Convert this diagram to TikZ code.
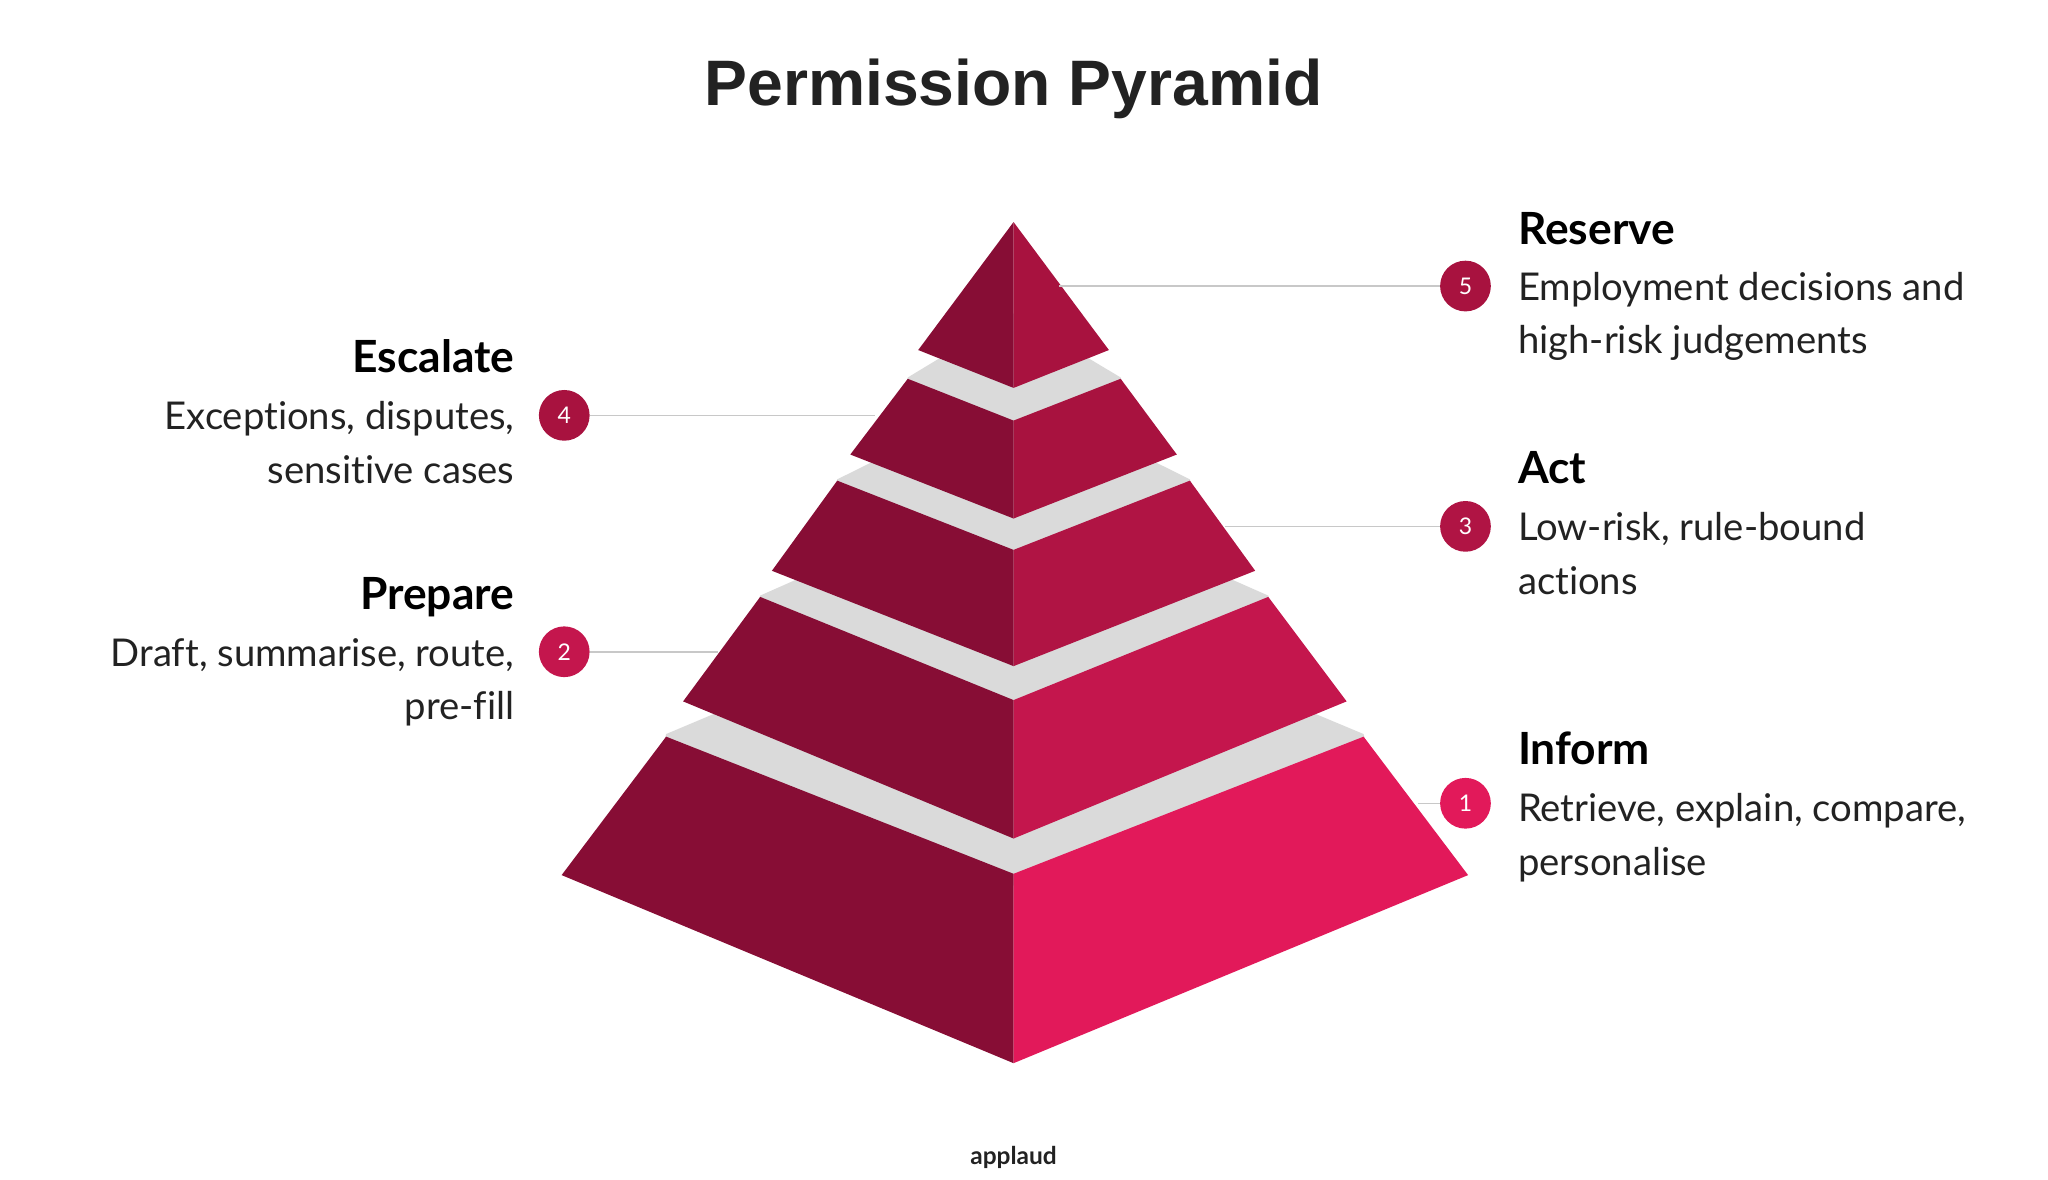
\documentclass[tikz,border=0pt]{standalone}
\usepackage{fontspec}
\setmainfont{Lato}[Ligatures={NoCommon,NoRare}]
\newfontfamily\titlefont{Liberation Sans}
\definecolor{dk}{HTML}{870D35}
\definecolor{c5}{HTML}{A8123F}
\definecolor{c3}{HTML}{B01444}
\definecolor{c2}{HTML}{C4164D}
\definecolor{c1}{HTML}{E2195A}
\definecolor{gr}{HTML}{DADADA}
\definecolor{ln}{HTML}{C8C8C8}
\definecolor{tx}{HTML}{222222}
\begin{document}
\begin{tikzpicture}[x=0.03cm,y=-0.03cm,
 num/.style={circle,minimum size=39*0.85pt,inner sep=0,text=white,font=\fontsize{15}{15}\selectfont},
 hd/.style={font=\fontsize{29}{29}\selectfont\bfseries,text=black,inner sep=0},
 bd/.style={font=\fontsize{25}{35}\selectfont,text=tx,inner sep=0},
 lk/.style={ln,line width=1pt}]
\useasboundingbox (0,0) rectangle (1568,903);
\node[font=\titlefont\fontsize{42}{42}\selectfont\bfseries,text=tx] (title) at (776,68) {Permission Pyramid};
% tier 1
\fill[gr] (510,562)--(776,450)--(1044,562)--(1046,570)--(776,678)--(508,570)--cycle;
\fill[dk] (510,564)--(776,669)--(776,814)--(430,670)--cycle;
\fill[c1] (776,669)--(1044,564)--(1124,670)--(776,814)--cycle;
% tier 2
\fill[gr] (582,456)--(776,370)--(971,456)--(973,463)--(776,545)--(580,463)--cycle;
\fill[dk] (582,457)--(776,536)--(776,642)--(523,537)--cycle;
\fill[c2] (776,536)--(971,457)--(1031,537)--(776,642)--cycle;
% tier 3
\fill[gr] (641,367)--(776,300)--(911,367)--(913,374)--(776,430)--(639,374)--cycle;
\fill[dk] (641,368)--(776,421)--(776,510)--(591,437)--cycle;
\fill[c3] (776,421)--(911,368)--(961,437)--(776,510)--cycle;
% tier 4
\fill[gr] (695,289)--(776,240)--(858,289)--(860,296)--(776,331)--(693,296)--cycle;
\fill[dk] (695,290)--(776,322)--(776,397)--(651,348)--cycle;
\fill[c5] (776,322)--(858,290)--(901,348)--(776,397)--cycle;
% tier 5
\fill[dk] (776,170)--(776,297)--(703,268)--cycle;
\fill[c5] (776,170)--(849,268)--(776,297)--cycle;
% markers
\coordinate (p5) at (811,219);\coordinate (p4) at (670,318);\coordinate (p3) at (938,403);
\coordinate (p2) at (550,499);\coordinate (p1) at (1086,615);
\node[num,fill=c5] (n5) at (1122,219) {5};
\node[num,fill=c5] (n4) at (432,318) {4};
\node[num,fill=c3] (n3) at (1122,403) {3};
\node[num,fill=c2] (n2) at (432,499) {2};
\node[num,fill=c1] (n1) at (1122,615) {1};
\draw[lk] (n5)--(p5); \draw[lk] (n4)--(p4); \draw[lk] (n3)--(p3); \draw[lk] (n2)--(p2); \draw[lk] (n1)--(p1);
% texts
\node[hd,anchor=base west] (h5) at (1162,187) {Reserve};
\node[bd,anchor=base west] (b5a) at (1162,230) {Employment decisions and};
\node[bd,anchor=base west] (b5b) at (1162,271) {high-risk judgements};
\node[hd,anchor=base west] (h3) at (1162,370) {Act};
\node[bd,anchor=base west] (b3a) at (1162,414) {Low-risk, rule-bound};
\node[bd,anchor=base west] (b3b) at (1162,455) {actions};
\node[hd,anchor=base west] (h1) at (1162,585) {Inform};
\node[bd,anchor=base west] (b1a) at (1162,629) {Retrieve, explain, compare,};
\node[bd,anchor=base west] (b1b) at (1162,670) {personalise};
\node[hd,anchor=base east] (h4) at (394,285) {Escalate};
\node[bd,anchor=base east] (b4a) at (394,329) {Exceptions, disputes,};
\node[bd,anchor=base east] (b4b) at (394,370) {sensitive cases};
\node[hd,anchor=base east] (h2) at (394,467) {Prepare};
\node[bd,anchor=base east] (b2a) at (394,510) {Draft, summarise, route,};
\node[bd,anchor=base east] (b2b) at (394,551) {pre-fill};
\node[font=\fontsize{16}{16}\selectfont\bfseries,text=tx] (logo) at (776,886) {applaud};
\end{tikzpicture}
\end{document}
